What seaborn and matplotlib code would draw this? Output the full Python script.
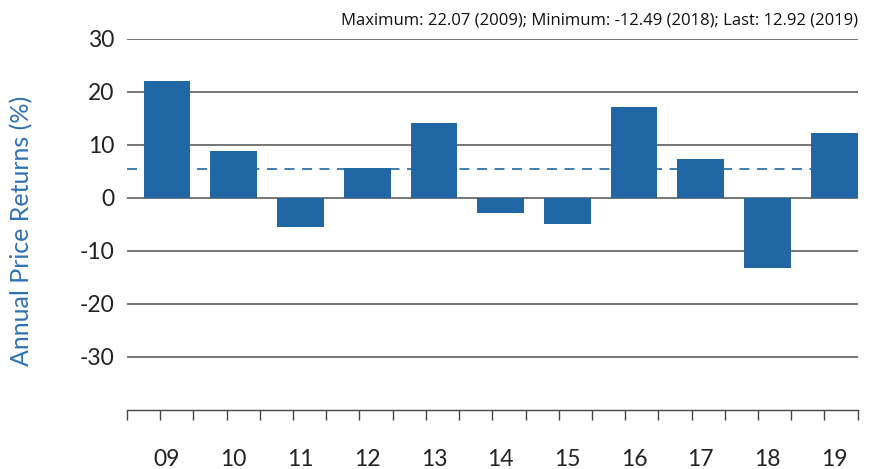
"""Annual price returns bar chart, 2009-2019"""

import numpy as np
import matplotlib.pyplot as plt
import pandas as pd
import seaborn as sns

YEARS = ["09", "10", "11", "12", "13", "14", "15", "16", "17", "18", "19"]
RETURNS = [22.07, 8.83, -5.5, 5.6, 14.1, -2.8, -4.9, 17.1, 7.3, -13.2, 12.2]
AVERAGE = 5.4
Y_TICKS = [-30, -20, -10, 0, 10, 20, 30]
SUMMARY = "Maximum: 22.07 (2009); Minimum: -12.49 (2018); Last: 12.92 (2019)"

BAR_BLUE = "#2166a5"
LABEL_BLUE = "#2f72b5"
GRID_GREY = "#5e5e5e"
TEXT_DARK = "#222222"

sns.set_style("white")
plt.rcParams["font.family"] = ["Lato", "DejaVu Sans"]

df = pd.DataFrame({"year": YEARS, "ret": RETURNS})

fig = plt.figure(figsize=(8.76, 4.69), dpi=100)
ax = fig.add_axes([0.145, 0.126, 0.834, 0.791])

ax.axhline(AVERAGE, color=BAR_BLUE, lw=1.2, ls=(0, (6, 4.5)), zorder=1)
sns.barplot(data=df, x="year", y="ret", order=YEARS, color=BAR_BLUE,
            saturation=1, width=0.7, linewidth=0, ax=ax, zorder=3)

x_lo, x_hi = -0.6, 10.35
ax.set_ylim(-40, 30)
ax.set_xlim(x_lo, x_hi)
ax.set_yticks(Y_TICKS)
ax.set_yticklabels([str(t) for t in Y_TICKS], fontsize=16.5, color=TEXT_DARK)
ax.yaxis.grid(True, color=GRID_GREY, lw=1.2, zorder=0)
ax.set_axisbelow(True)
ax.tick_params(axis="y", length=0, pad=9)

# evenly spaced tick marks along the bottom axis, labels carry no marks
ax.set_xticks(np.linspace(x_lo, x_hi, 23), minor=True)
ax.tick_params(axis="x", which="minor", bottom=True, direction="out",
               length=7, width=1, color="#444444")
ax.tick_params(axis="x", which="major", length=0, pad=28, labelsize=16.5,
               labelcolor=TEXT_DARK)

for side in ["top", "right", "left"]:
    ax.spines[side].set_visible(False)
ax.spines["bottom"].set_color("#444444")
ax.spines["bottom"].set_linewidth(1)

ax.set_xlabel("")
ax.set_ylabel("Annual Price Returns (%)", fontsize=18, color=LABEL_BLUE)
ax.yaxis.set_label_coords(-0.128, 0.482)

fig.text(0.979, 0.957, SUMMARY, ha="right", va="center", fontsize=12,
         color="#111111", family=["Open Sans", "DejaVu Sans"])

fig.savefig("out.png", dpi=100)
